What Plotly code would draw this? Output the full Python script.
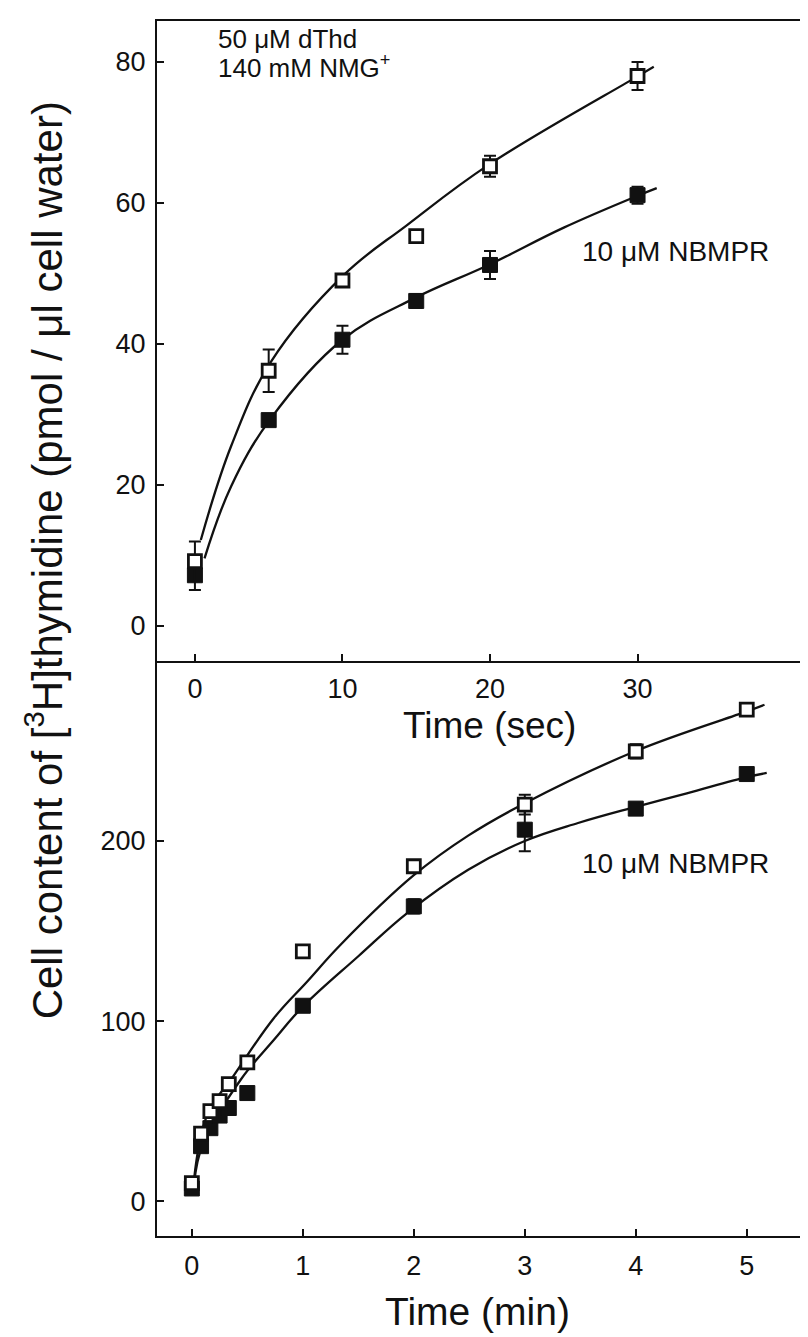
import plotly.graph_objects as go

# ---------------- data (top panel, seconds) ----------------
t_sec = [0, 5, 10, 15, 20, 30]
ctrl_sec = [9.2, 36.2, 49.0, 55.3, 65.2, 78.0]
ctrl_sec_err = [2.8, 3.0, 0.8, 0.0, 1.5, 2.0]
nbmpr_sec = [7.2, 29.2, 40.6, 46.1, 51.2, 61.1]
nbmpr_sec_err = [2.1, 0.5, 2.0, 1.0, 2.0, 1.2]

# fitted curves (top panel)
fit_ctrl_sec_t = [0.4, 2.45, 5.16, 10.1, 14.4, 19.9, 29.8, 31.1]
fit_ctrl_sec_y = [12.2, 25.5, 37.5, 49.8, 56.9, 65.4, 77.7, 79.3]
fit_nbmpr_sec_t = [0.65, 2.45, 5.1, 10.0, 14.9, 19.9, 25.0, 30.1, 31.3]
fit_nbmpr_sec_y = [9.6, 19.8, 29.3, 40.6, 46.5, 51.2, 56.5, 61.1, 62.1]

# ---------------- data (bottom panel, minutes) ----------------
t_min = [0, 0.083, 0.167, 0.25, 0.333, 0.5, 1, 2, 3, 4, 5]
ctrl_min = [10, 37.5, 50, 55.5, 65, 77, 138.7, 186, 220.2, 249.8, 273]
ctrl_min_err = [0, 0, 0, 0, 0, 0, 2, 2, 5.5, 4, 3]
nbmpr_min = [7, 30.5, 40.5, 47.5, 51.7, 60, 108.5, 163.7, 206.3, 218, 237.2]
nbmpr_min_err = [0, 0, 0, 0, 0, 0, 2, 4, 12, 2, 2]

fit_ctrl_min_t = [0.02, 0.14, 0.38, 0.74, 1.04, 1.34, 2.0, 2.49, 3.0, 4.0, 5.0, 5.16]
fit_ctrl_min_y = [12, 48, 70, 101.7, 122, 142.4, 181, 203, 221, 250, 272, 275.7]
fit_nbmpr_min_t = [0.02, 0.1, 0.44, 0.74, 1.0, 1.5, 1.94, 2.49, 3.0, 3.48, 4.0, 4.46, 5.0, 5.18]
fit_nbmpr_min_y = [10, 32, 67.4, 89.6, 108, 136, 160, 184, 200, 210, 219, 226.5, 235.5, 237.8]

top_yticks = [0, 20, 40, 60, 80]
top_xticks = [0, 10, 20, 30]
bot_yticks = [0, 100, 200]
bot_xticks = [0, 1, 2, 3, 4, 5]

FONT = "Liberation Sans, Arial, Helvetica, sans-serif"
BLACK = "#111111"

fig = go.Figure()

def add_panel(xa, ya, fx_c, fy_c, fx_n, fy_n, t, yc, ec, yn, en):
    line = dict(color=BLACK, width=2.3, shape="spline", smoothing=1.1)
    fig.add_trace(go.Scatter(x=fx_c, y=fy_c, mode="lines", line=line,
                             xaxis=xa, yaxis=ya, showlegend=False, hoverinfo="skip"))
    fig.add_trace(go.Scatter(x=fx_n, y=fy_n, mode="lines", line=line,
                             xaxis=xa, yaxis=ya, showlegend=False, hoverinfo="skip"))
    eb = dict(color=BLACK, thickness=2, width=6)
    fig.add_trace(go.Scatter(x=t, y=yn, mode="markers",
                             error_y=dict(type="data", array=en, visible=True, **eb),
                             marker=dict(symbol="square", size=15, color=BLACK,
                                         line=dict(color=BLACK, width=1)),
                             xaxis=xa, yaxis=ya, showlegend=False))
    fig.add_trace(go.Scatter(x=t, y=yc, mode="markers",
                             error_y=dict(type="data", array=ec, visible=True, **eb),
                             marker=dict(symbol="square", size=13, color="white",
                                         line=dict(color=BLACK, width=2.8)),
                             xaxis=xa, yaxis=ya, showlegend=False))

add_panel("x", "y", fit_ctrl_sec_t, fit_ctrl_sec_y, fit_nbmpr_sec_t, fit_nbmpr_sec_y,
          t_sec, ctrl_sec, ctrl_sec_err, nbmpr_sec, nbmpr_sec_err)
add_panel("x2", "y2", fit_ctrl_min_t, fit_ctrl_min_y, fit_nbmpr_min_t, fit_nbmpr_min_y,
          t_min, ctrl_min, ctrl_min_err, nbmpr_min, nbmpr_min_err)

W, H = 808, 1337
L, R, T, B = 149, 0, 13, 109
split = (1228 - 653) / (1228 - 13)

tickfont = dict(family=FONT, size=27, color=BLACK)
axcommon = dict(showgrid=False, zeroline=False, showline=True, linecolor=BLACK, linewidth=2,
                ticks="inside", ticklen=7, tickwidth=2, tickcolor=BLACK, tickfont=tickfont)

top_yr = [-4.96, 85.8]
bot_yr = [-19.4, 300.0]

fig.update_layout(
    width=W, height=H,
    margin=dict(l=L, r=R, t=T, b=B),
    paper_bgcolor="white", plot_bgcolor="rgba(0,0,0,0)",
    font=dict(family=FONT, color=BLACK),
    xaxis=dict(domain=[0, 1], anchor="y", range=[-2.57, 41.96], tickvals=top_xticks,
               mirror=True, ticklabelstandoff=3, **axcommon),
    yaxis=dict(domain=[split, 1], anchor="x", range=top_yr, tickvals=top_yticks,
               mirror="ticks", ticklabelstandoff=4, **axcommon),
    xaxis2=dict(domain=[0, 1], anchor="y2", range=[-0.314, 5.606], tickvals=bot_xticks,
                ticklabelstandoff=5, **axcommon),
    yaxis2=dict(domain=[0, split], anchor="x2", range=bot_yr, tickvals=bot_yticks,
                mirror="ticks", ticklabelstandoff=4, **axcommon),
)

ann_font = dict(family=FONT, size=26, color=BLACK)
pw, ph = W - L - R, H - T - B
def px(x):
    return (x - L) / pw
def py(y):
    return (H - B - y) / ph

fig.add_annotation(text="50 \u03bcM dThd", x=px(208), y=py(31), xref="paper", yref="paper",
                   xanchor="left", yanchor="middle", showarrow=False, font=ann_font)
fig.add_annotation(text="140 mM NMG<sup>+</sup>", x=px(208), y=py(58), xref="paper", yref="paper",
                   xanchor="left", yanchor="middle", showarrow=False, font=ann_font)
fig.add_annotation(text="10 \u03bcM NBMPR", x=px(573), y=py(243), xref="paper", yref="paper",
                   xanchor="left", yanchor="middle", showarrow=False, font=dict(family=FONT, size=28, color=BLACK))
fig.add_annotation(text="10 \u03bcM NBMPR", x=px(573), y=py(855), xref="paper", yref="paper",
                   xanchor="left", yanchor="middle", showarrow=False, font=dict(family=FONT, size=28, color=BLACK))
fig.add_annotation(text="Time (sec)", x=px(483), y=py(717), xref="paper", yref="paper",
                   xanchor="center", yanchor="middle", showarrow=False, font=dict(family=FONT, size=37, color=BLACK))
fig.add_annotation(text="Time (min)", x=px(470), y=py(1303), xref="paper", yref="paper",
                   xanchor="center", yanchor="middle", showarrow=False, font=dict(family=FONT, size=39, color=BLACK))
fig.add_annotation(text="Cell content of [<sup>3</sup>H]thymidine (pmol / \u03bcl cell water)",
                   x=px(36), y=py(552), xref="paper", yref="paper", textangle=-90,
                   xanchor="center", yanchor="middle", showarrow=False, font=dict(family=FONT, size=42, color=BLACK))

fig.write_html("out.html")
